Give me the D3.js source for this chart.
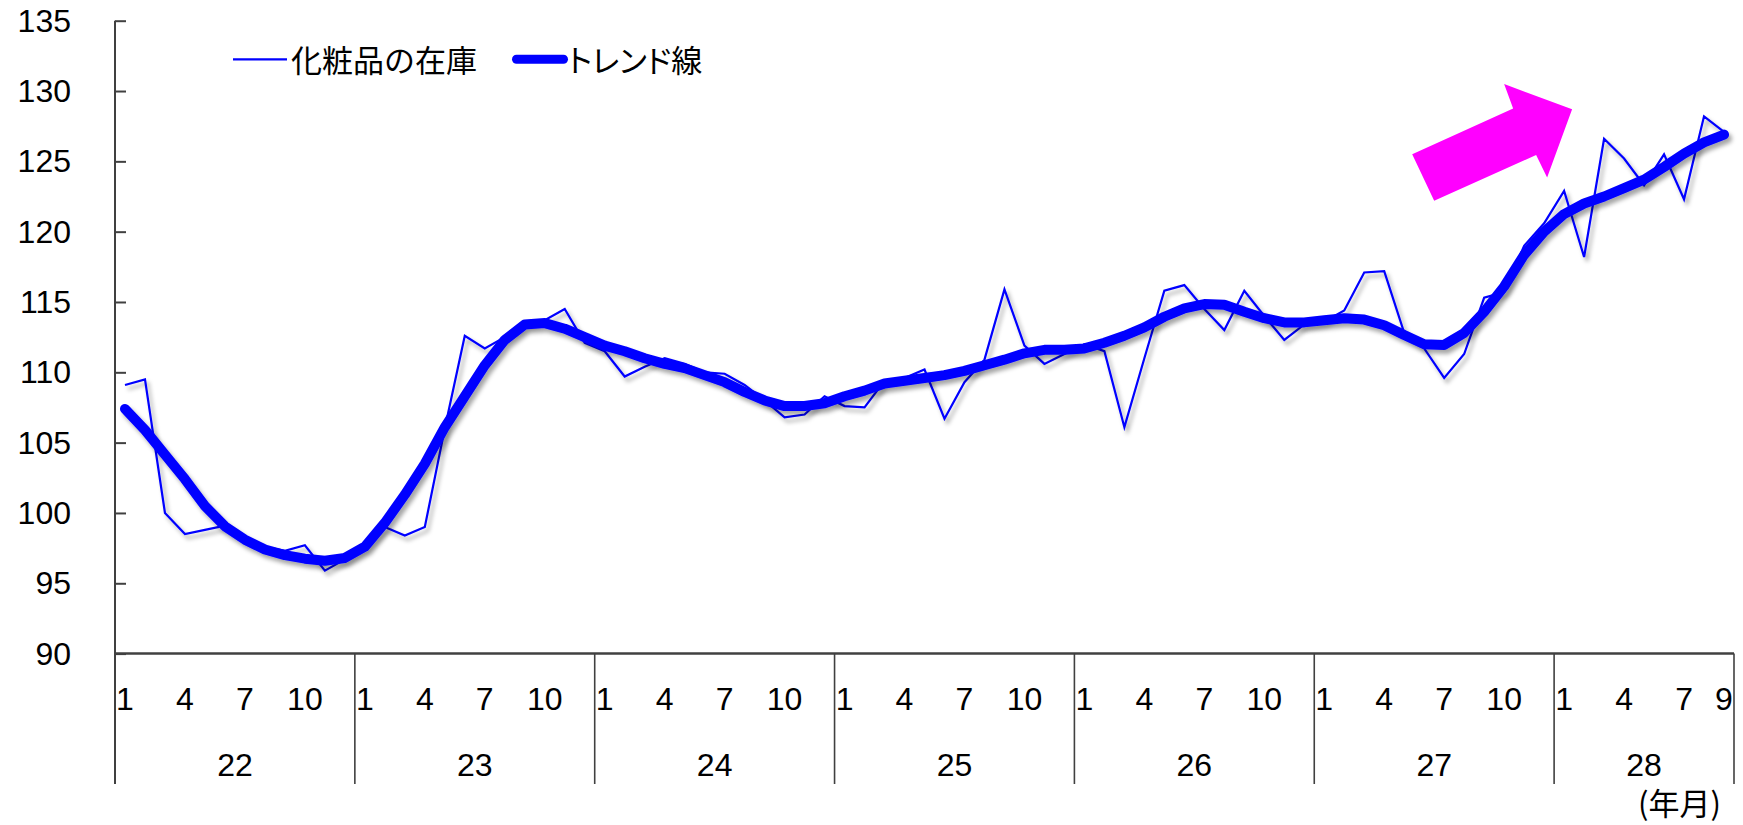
<!DOCTYPE html>
<html lang="ja">
<head>
<meta charset="utf-8">
<script src="https://cdn.jsdelivr.net/npm/d3@7"></script>
<style>
  html, body { margin: 0; padding: 0; background: #fff; }
  svg { display: block; }
  text { font-family: "Noto Sans CJK JP", "Noto Sans", sans-serif; fill: #000; }
  text.num { font-family: "Liberation Sans", "Noto Sans", sans-serif; }
</style>
</head>
<body>
<svg id="chart" width="1743" height="825"></svg>
<script>
// 年ごとの月ラベル（22年1月〜28年9月）
const years = ["22", "23", "24", "25", "26", "27", "28"];
const monthsPerYear = [12, 12, 12, 12, 12, 12, 9];
const monthTicks = [1, 4, 7, 10];
const lastMonthLabel = 9;
const yTicks = [90, 95, 100, 105, 110, 115, 120, 125, 130, 135];

// 化粧品の在庫（月次）
const inventory = [
  109.1, 109.5, 100.0, 98.5, 98.8, 99.1, 98.2, 97.6, 97.3, 97.7, 95.9, 96.7,
  97.6, 99.0, 98.4, 99.0, 106.0, 112.6, 111.7, 112.5, 113.4, 113.7, 114.5, 112.1,
  111.5, 109.7, 110.4, 111.0, 110.6, 110.0, 109.9, 109.1, 108.0, 106.8, 107.0, 108.3,
  107.6, 107.5, 109.4, 109.6, 110.2, 106.7, 109.3, 110.9, 115.9, 111.9, 110.6, 111.3,
  112.0, 111.5, 106.1, 111.0, 115.8, 116.2, 114.5, 113.0, 115.8, 114.0, 112.3, 113.4,
  113.6, 114.4, 117.1, 117.2, 112.8, 111.7, 109.6, 111.3, 115.3, 115.7, 119.0, 120.6,
  122.9, 118.2, 126.6, 125.2, 123.3, 125.5, 122.3, 128.2, 127.1
];

// トレンド線
const trend = [
  107.4, 105.9, 104.15, 102.4, 100.5, 99.05, 98.1, 97.4, 97.0, 96.75, 96.6, 96.8,
  97.6, 99.3, 101.3, 103.5, 106.1, 108.3, 110.5, 112.3, 113.4, 113.5, 113.1, 112.5,
  111.9, 111.5, 111.0, 110.6, 110.3, 109.8, 109.3, 108.6, 108.0, 107.6, 107.6, 107.8,
  108.3, 108.7, 109.2, 109.4, 109.6, 109.8, 110.1, 110.5, 110.9, 111.35, 111.6, 111.6,
  111.7, 112.1, 112.6, 113.2, 113.95, 114.55, 114.85, 114.8, 114.3, 113.85, 113.55, 113.55,
  113.7, 113.85, 113.75, 113.35, 112.65, 112.0, 111.95, 112.8, 114.3, 116.1, 118.35, 120.0,
  121.25, 122.0, 122.5, 123.1, 123.7, 124.6, 125.55, 126.35, 126.9
];

// 上昇を示す矢印（月位置, 指数値）
const arrowShape = [
  [65.5, 122.2], [64.4, 125.5], [69.45, 128.75], [69.0, 130.5],
  [72.4, 128.7], [71.15, 123.85], [70.6, 125.45]
];

const legendItems = ["化粧品の在庫", "トレンド線"];
const unitLabel = "(年月)";

(function draw() {
  const svg = d3.select("#chart");
  const axisColor = "#404040";
  const lineColor = "#0000ff";

  const totalMonths = d3.sum(monthsPerYear);
  const plotLeft = 115, plotRight = 1734, plotTop = 20.7, plotBottom = 653.6, divBottom = 784;

  // 月の区切り位置を扱う線形スケール（0 = 22年1月の左端）
  const x = d3.scaleLinear().domain([0, totalMonths]).range([plotLeft, plotRight]);
  const y = d3.scaleLinear().domain([90, 135]).range([plotBottom, plotTop]);
  const xc = i => x(i + 0.5);

  // 影フィルタ
  const defs = svg.append("defs");
  const f = defs.append("filter").attr("id", "shadow")
    .attr("x", "-5%").attr("y", "-10%").attr("width", "110%").attr("height", "130%");
  f.append("feDropShadow").attr("dx", 3).attr("dy", 4).attr("stdDeviation", 2.2)
    .attr("flood-color", "#000").attr("flood-opacity", 0.35);

  // Y軸
  const yAxis = d3.axisRight(y).tickValues(yTicks).tickSize(11).tickFormat("");
  const yG = svg.append("g").attr("transform", `translate(${plotLeft},0)`).call(yAxis);
  yG.select(".domain").remove();
  yG.selectAll(".tick line").attr("stroke", axisColor).attr("stroke-width", 2);
  svg.append("line")
    .attr("x1", plotLeft).attr("x2", plotLeft).attr("y1", y(135)).attr("y2", divBottom)
    .attr("stroke", axisColor).attr("stroke-width", 2);

  svg.append("g").selectAll("text").data(yTicks).join("text")
    .attr("class", "num")
    .attr("x", 71).attr("y", d => y(d))
    .attr("text-anchor", "end").attr("dominant-baseline", "central")
    .attr("font-size", 32).text(d => d);

  // X軸
  svg.append("line")
    .attr("x1", plotLeft).attr("x2", plotRight).attr("y1", plotBottom).attr("y2", plotBottom)
    .attr("stroke", axisColor).attr("stroke-width", 2.5);

  const yearStarts = [];
  let acc = 0;
  monthsPerYear.forEach(n => { yearStarts.push(acc); acc += n; });

  svg.append("g").selectAll("line").data([...yearStarts.slice(1), totalMonths]).join("line")
    .attr("x1", d => x(d)).attr("x2", d => x(d))
    .attr("y1", plotBottom).attr("y2", divBottom)
    .attr("stroke", axisColor).attr("stroke-width", 1.6);

  const monthLabels = [];
  years.forEach((yr, k) => {
    monthTicks.forEach(m => {
      if (m <= monthsPerYear[k]) monthLabels.push({ i: yearStarts[k] + m - 1, t: String(m) });
    });
  });
  monthLabels.push({ i: totalMonths - 1, t: String(lastMonthLabel) });

  svg.append("g").selectAll("text").data(monthLabels).join("text")
    .attr("class", "num")
    .attr("x", d => xc(d.i)).attr("y", 699)
    .attr("text-anchor", "middle").attr("dominant-baseline", "central")
    .attr("font-size", 32).text(d => d.t);

  svg.append("g").selectAll("text").data(years).join("text")
    .attr("class", "num")
    .attr("x", (d, k) => x(yearStarts[k] + monthsPerYear[k] / 2))
    .attr("y", 765)
    .attr("text-anchor", "middle").attr("dominant-baseline", "central")
    .attr("font-size", 32).text(d => d);

  svg.append("text")
    .attr("x", 1721).attr("y", 815)
    .attr("text-anchor", "end")
    .attr("font-size", 31).text(unitLabel);

  // 矢印
  svg.append("polygon")
    .attr("points", arrowShape.map(([m, v]) => [x(m + 0.5), y(v)].join(",")).join(" "))
    .attr("fill", "#ff00ff");

  // 系列
  const line = d3.line().x((d, i) => xc(i)).y(d => y(d));

  svg.append("path").datum(inventory)
    .attr("d", line).attr("fill", "none")
    .attr("stroke", lineColor).attr("stroke-width", 2.2)
    .attr("stroke-linejoin", "miter")
    .attr("filter", "url(#shadow)");

  svg.append("path").datum(trend)
    .attr("d", line).attr("fill", "none")
    .attr("stroke", lineColor).attr("stroke-width", 10)
    .attr("stroke-linejoin", "round").attr("stroke-linecap", "round")
    .attr("filter", "url(#shadow)");

  // 凡例
  const lg = svg.append("g");
  lg.append("line").attr("x1", 233).attr("x2", 287).attr("y1", 59.3).attr("y2", 59.3)
    .attr("stroke", lineColor).attr("stroke-width", 2.2);
  lg.append("text").attr("x", 291).attr("y", 58).attr("dominant-baseline", "central")
    .attr("font-size", 31).text(legendItems[0]);
  lg.append("line").attr("x1", 516.5).attr("x2", 563.5).attr("y1", 59.3).attr("y2", 59.3)
    .attr("stroke", lineColor).attr("stroke-width", 9).attr("stroke-linecap", "round");
  lg.append("text").attr("x", 568).attr("y", 58).attr("dominant-baseline", "central")
    .attr("font-size", 31).style("font-feature-settings", "'palt'").text(legendItems[1]);
})();
</script>
</body>
</html>
